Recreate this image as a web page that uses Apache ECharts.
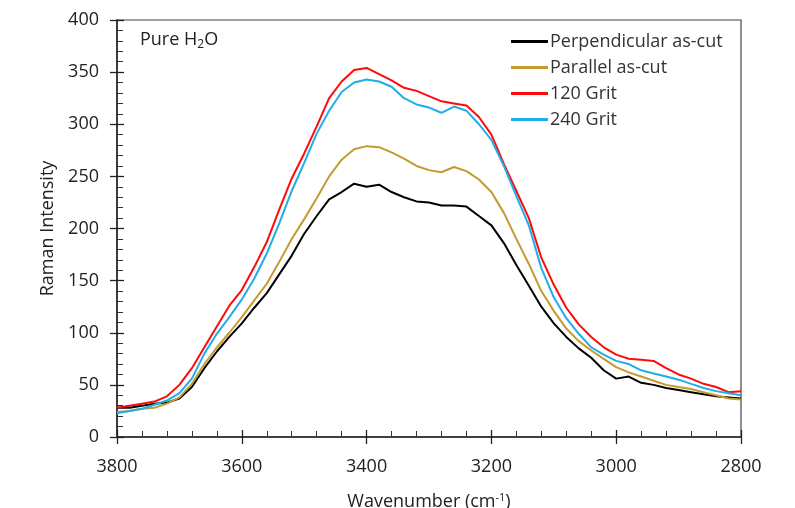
<!DOCTYPE html>
<html>
<head>
<meta charset="utf-8">
<script src="https://cdn.jsdelivr.net/npm/echarts@6/dist/echarts.min.js"></script>
<style>
  html, body { margin: 0; padding: 0; background: #fff; }
  #chart { width: 795px; height: 508px; }
</style>
</head>
<body>
<div id="chart"></div>
<script>
// wavenumber steps, cm-1 (read every 20 from the picture)
var wavenumbers = [3800,3780,3760,3740,3720,3700,3680,3660,3640,3620,3600,3580,3560,3540,3520,3500,3480,3460,3440,3420,3400,
    3380,3360,3340,3320,3300,3280,3260,3240,3220,3200,3180,3160,3140,3120,3100,3080,3060,3040,3020,3000,
    2980,2960,2940,2920,2900,2880,2860,2840,2820,2800];

var perpendicular = [28,28,30,32,33,37,48,66,82,96,109,124,138,156,174,195,212,228,235,243,240,
    242,235,230,226,225,222,222,221,212,203,186,165,145,125,109,96,85,76,64,56,
    58,52,50,47,45,43,41,39,38,37];

var parallel = [24,25,27,28,32,38,51,70,86,100,115,131,147,168,190,209,229,250,266,276,279,
    278,273,267,260,256,254,259,255,247,235,215,190,166,140,121,104,92,83,75,67,
    62,58,54,50,48,46,43,40,37,36];

var grit120 = [28,30,32,34,39,50,66,86,106,126,141,163,187,218,248,272,298,325,341,352,354,
    348,342,335,332,327,322,320,318,307,290,262,236,210,172,146,124,108,96,86,79,
    75,74,73,66,60,56,51,48,43,44];

var grit240 = [23,25,27,31,35,42,56,80,99,115,132,152,176,205,236,263,291,313,331,340,343,
    341,336,325,319,316,311,317,313,300,285,260,231,203,162,134,114,99,86,79,73,
    70,64,61,58,55,51,47,44,42,40];

var seriesNames = ['Perpendicular as-cut','Parallel as-cut','120 Grit','240 Grit'];
var seriesColors = ['#000000','#C39B2E','#FF0A0A','#1FAEE8'];
var seriesValues = [perpendicular, parallel, grit120, grit240];

function pairs(vals){
    var out = [];
    for (var i = 0; i < wavenumbers.length; i++) {
        out.push([wavenumbers[i], vals[i]]);
    }
    return out;
}

var font = '"Open Sans", Lato, sans-serif';
var chart = echarts.init(document.getElementById('chart'));

var series = [];
for (var k = 0; k < seriesNames.length; k++) {
    series.push({
        name: seriesNames[k],
        type: 'line',
        xAxisIndex: 0,
        yAxisIndex: 0,
        showSymbol: false,
        symbol: 'none',
        animation: false,
        lineStyle: {color: seriesColors[k], width: 2},
        itemStyle: {color: seriesColors[k]},
        data: pairs(seriesValues[k])
    });
}

var option = {
    backgroundColor: '#fff',
    animation: false,
    title: {
        text: 'Pure H{sub|2}O',
        left: 135, top: 24,
        textStyle: {
            fontFamily: font, fontSize: 18, fontWeight: 'normal', color: '#222',
            rich: {sub: {fontFamily: font, fontSize: 12, color: '#222', verticalAlign: 'bottom', padding: [10,0,0,0]}}
        }
    },
    legend: {
        orient: 'vertical',
        left: 506, top: 26,
        icon: 'rect',
        itemWidth: 37, itemHeight: 3,
        itemGap: 5,
        textStyle: {fontFamily: font, fontSize: 18, color: '#333', lineHeight: 21, padding: [0,0,0,-3]},
        data: seriesNames
    },
    grid: {
        left: 117, right: 54, top: 20, bottom: 71,
        outerBoundsMode: 'none',
        show: true, borderColor: '#444', borderWidth: 1.2
    },
    xAxis: [{
        type: 'value', inverse: true,
        min: 2800, max: 3800, interval: 200,
        name: 'Wavenumber (cm{sup|-1})',
        nameLocation: 'middle', nameGap: 55,
        nameTextStyle: {
            fontFamily: font, fontSize: 18, color: '#222',
            rich: {sup: {fontFamily: font, fontSize: 11, color: '#222', verticalAlign: 'top', padding: [0,0,9,0]}}
        },
        axisLine: {lineStyle: {color: '#222', width: 1.5}},
        axisTick: {inside: true, length: 7, lineStyle: {color: '#222', width: 1.3}},
        minorTick: {show: true, splitNumber: 5, length: 6, lineStyle: {color: '#333', width: 1}},
        axisLabel: {fontFamily: font, fontSize: 18, color: '#222', margin: 21,
            formatter: function(v){ return String(v); }},
        splitLine: {show: false}
    }, {
        type: 'value', inverse: true, position: 'bottom',
        min: 2800, max: 3800, interval: 200,
        axisLine: {show: false},
        axisTick: {inside: false, length: 7, lineStyle: {color: '#222', width: 1.3}},
        axisLabel: {show: false},
        splitLine: {show: false}
    }],
    yAxis: [{
        type: 'value',
        min: 0, max: 400, interval: 50,
        name: 'Raman Intensity',
        nameLocation: 'middle', nameGap: 58,
        nameTextStyle: {fontFamily: font, fontSize: 18, color: '#222'},
        axisLine: {show: true, lineStyle: {color: '#222', width: 1.5}},
        axisTick: {show: true, inside: true, length: 7, lineStyle: {color: '#222', width: 1.3}},
        minorTick: {show: true, splitNumber: 5, length: 6, lineStyle: {color: '#333', width: 1}},
        axisLabel: {fontFamily: font, fontSize: 18, color: '#222', margin: 18},
        splitLine: {show: false}
    }, {
        type: 'value', position: 'left',
        min: 0, max: 400, interval: 50,
        axisLine: {show: false},
        axisTick: {show: true, inside: false, length: 7, lineStyle: {color: '#222', width: 1.3}},
        axisLabel: {show: false},
        splitLine: {show: false}
    }],
    series: series
};

chart.setOption(option);
</script>
</body>
</html>
